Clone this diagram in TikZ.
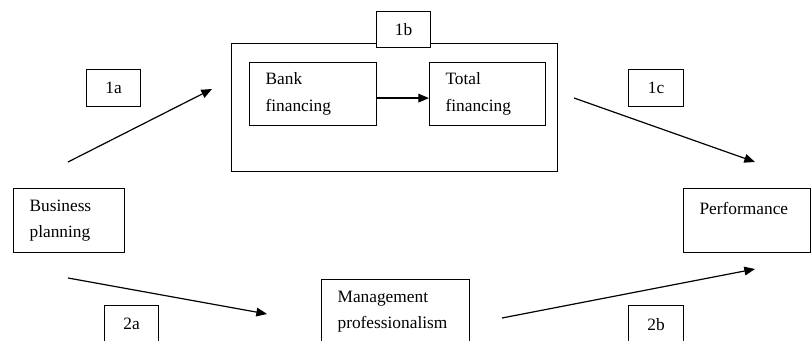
\documentclass[tikz,border=0pt]{standalone}
\usepackage{fontspec}
\setmainfont{Liberation Serif}
\usetikzlibrary{arrows.meta}
\begin{document}
\begin{tikzpicture}[x=0.75pt,y=-0.75pt,>={Triangle[length=8pt,width=6.5pt]},
    every node/.style={font=\fontsize{13pt}{20pt}\selectfont},
    box/.style={draw,line width=0.9pt,anchor=north west,align=left,inner xsep=12pt,inner ysep=0pt},
    tag/.style={draw,line width=0.9pt,fill=white,anchor=north west,minimum width=40.5pt,minimum height=27.75pt,inner sep=0pt},
    flow/.style={->,line width=0.9pt}]
    \useasboundingbox (0,0) rectangle (811,341);
    \node[box,minimum width=244.5pt,minimum height=96pt,inner xsep=0pt] (group) at (231,43) {};
    \node[box,text width=59.25pt,minimum height=48pt] (plan) at (13,188) {Business\\planning};
    \node[box,text width=71.25pt,minimum height=47.25pt] (bank) at (249,62) {Bank\\financing};
    \node[box,text width=63pt,minimum height=47.25pt] (total) at (429,62) {Total\\financing};
    \node[box,text width=71.25pt,minimum height=48pt,text depth=19pt] (perf) at (683,188) {Performance};
    \node[box,text width=87pt,minimum height=48pt] (mgmt) at (321,279) {Management\\professionalism};
    \node[tag] (t1a) at (86,69) {1a};
    \node[tag,minimum height=27pt] (t1b) at (376,11) {1b};
    \node[tag,minimum width=41.25pt] (t1c) at (628,69) {1c};
    \node[tag] (t2a) at (104,305) {2a};
    \node[tag,minimum width=41.25pt] (t2b) at (628,305) {2b};
    \coordinate (a1s) at (68,162);
    \coordinate (a1e) at (212,89);
    \coordinate (c1s) at (574,98);
    \coordinate (c1e) at (755,162);
    \coordinate (a2s) at (68,278);
    \coordinate (a2e) at (267,314);
    \coordinate (b2s) at (502,318);
    \coordinate (b2e) at (755,269);
    \draw[flow] (a1s) -- (a1e);
    \draw[flow] ([yshift=-3pt]bank.east) -- ([yshift=-3pt]total.west);
    \draw[flow] (c1s) -- (c1e);
    \draw[flow] (a2s) -- (a2e);
    \draw[flow] (b2s) -- (b2e);
\end{tikzpicture}
\end{document}
